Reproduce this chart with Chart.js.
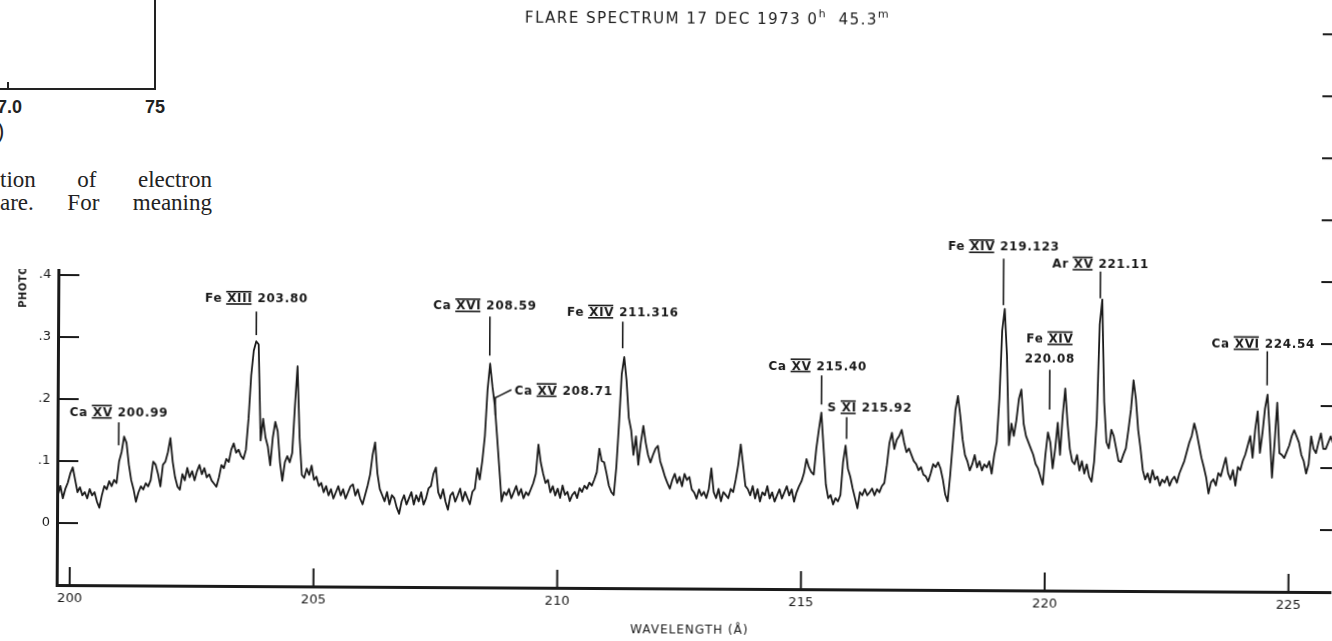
<!DOCTYPE html>
<html>
<head>
<meta charset="utf-8">
<title>Flare spectrum 17 Dec 1973</title>
<script src="https://cdn.jsdelivr.net/npm/chart.js@4.4.1/dist/chart.umd.min.js"></script>
<style>
  html, body { margin: 0; padding: 0; background: #fff; overflow: hidden; }
  #wrap { position: relative; width: 1332px; height: 641px; }
  /* the plate sits a little crooked on the page */
  #spectrum { position: absolute; left: 0; top: 0; transform: rotate(0.32deg); transform-origin: 57px 522px; }
  #page { position: absolute; left: 0; top: 0; width: 232px; height: 269px; background: #fff; overflow: hidden; color: #222; }
  #page .frame { position: absolute; left: -10px; top: -5px; width: 164px; height: 93px; border-right: 2px solid #222; border-bottom: 2px solid #222; }
  #page .tick { position: absolute; left: 7px; top: 82px; width: 2px; height: 7px; background: #222; }
  #page .num { position: absolute; top: 98px; font: bold 18px/18px "Liberation Sans", sans-serif; }
  #page .paren { position: absolute; left: -3px; top: 120px; font: 22px/22px "Liberation Sans", sans-serif; }
  #page .caption { position: absolute; left: 0; width: 212px; font: 23px/23px "Liberation Serif", serif; text-align: justify; text-align-last: justify; white-space: nowrap; }
</style>
</head>
<body>
<div id="wrap">
  <canvas id="spectrum" width="1332" height="641"></canvas>
  <div id="page">
    <div class="frame"></div>
    <div class="tick"></div>
    <span class="num" style="left:-3px">7.0</span>
    <span class="num" style="left:145px">75</span>
    <span class="paren">)</span>
    <div class="caption" style="top:168px">tion of electron</div>
    <div class="caption" style="top:191px">are. For meaning</div>
  </div>
</div>
<script>
// densitometer trace, sampled every 0.05 Å from 199.70 Å
const wavelengthStart = 199.70;
const wavelengthStep = 0.05;
const density = [
  // 199.70 - 199.95
  0.050, 0.045, 0.060, 0.040, 0.055, 0.065,
  // 200
  0.080, 0.090, 0.070, 0.050, 0.058, 0.045, 0.050, 0.040, 0.055, 0.045, 0.050, 0.035, 0.025, 0.045, 0.060, 0.055, 0.068, 0.060, 0.070, 0.065,
  // 201
  0.100, 0.115, 0.140, 0.130, 0.095, 0.070, 0.055, 0.035, 0.050, 0.060, 0.055, 0.065, 0.060, 0.070, 0.100, 0.095, 0.080, 0.060, 0.095, 0.100,
  // 202
  0.115, 0.138, 0.100, 0.075, 0.060, 0.055, 0.080, 0.070, 0.090, 0.075, 0.085, 0.070, 0.085, 0.095, 0.080, 0.090, 0.075, 0.080, 0.070, 0.065,
  // 203
  0.060, 0.075, 0.095, 0.090, 0.105, 0.100, 0.120, 0.130, 0.115, 0.120, 0.110, 0.105, 0.120, 0.170, 0.240, 0.280, 0.295, 0.290, 0.135, 0.170,
  // 204
  0.140, 0.125, 0.095, 0.140, 0.165, 0.150, 0.100, 0.070, 0.100, 0.110, 0.100, 0.115, 0.190, 0.255, 0.140, 0.080, 0.075, 0.090, 0.080, 0.095,
  // 205
  0.072, 0.077, 0.062, 0.067, 0.052, 0.062, 0.047, 0.057, 0.042, 0.052, 0.062, 0.047, 0.057, 0.042, 0.052, 0.062, 0.065, 0.047, 0.057, 0.042,
  // 206
  0.033, 0.048, 0.063, 0.081, 0.113, 0.133, 0.083, 0.058, 0.048, 0.038, 0.053, 0.033, 0.048, 0.043, 0.028, 0.018, 0.038, 0.048, 0.033, 0.043,
  // 207
  0.053, 0.033, 0.048, 0.038, 0.053, 0.033, 0.043, 0.059, 0.063, 0.083, 0.093, 0.053, 0.043, 0.058, 0.038, 0.025, 0.048, 0.053, 0.038, 0.048,
  // 208
  0.059, 0.039, 0.054, 0.044, 0.034, 0.054, 0.059, 0.092, 0.074, 0.104, 0.144, 0.219, 0.261, 0.224, 0.194, 0.144, 0.092, 0.039, 0.054, 0.049,
  // 209
  0.059, 0.044, 0.054, 0.064, 0.049, 0.059, 0.044, 0.054, 0.049, 0.059, 0.069, 0.084, 0.131, 0.102, 0.084, 0.069, 0.074, 0.054, 0.064, 0.049,
  // 210
  0.060, 0.045, 0.065, 0.050, 0.055, 0.040, 0.050, 0.055, 0.045, 0.061, 0.055, 0.065, 0.060, 0.070, 0.065, 0.075, 0.087, 0.125, 0.105, 0.103,
  // 211
  0.085, 0.065, 0.055, 0.050, 0.095, 0.165, 0.245, 0.273, 0.235, 0.175, 0.155, 0.115, 0.145, 0.099, 0.135, 0.162, 0.135, 0.115, 0.103, 0.115,
  // 212
  0.125, 0.130, 0.105, 0.093, 0.080, 0.070, 0.061, 0.075, 0.085, 0.070, 0.080, 0.065, 0.085, 0.075, 0.080, 0.060, 0.055, 0.045, 0.060, 0.050,
  // 213
  0.056, 0.046, 0.061, 0.094, 0.056, 0.046, 0.061, 0.041, 0.056, 0.051, 0.046, 0.061, 0.056, 0.076, 0.100, 0.133, 0.100, 0.066, 0.061, 0.051,
  // 214
  0.066, 0.046, 0.061, 0.041, 0.056, 0.051, 0.066, 0.046, 0.056, 0.041, 0.051, 0.061, 0.046, 0.056, 0.066, 0.051, 0.061, 0.041, 0.056, 0.066,
  // 215
  0.074, 0.087, 0.110, 0.097, 0.089, 0.085, 0.127, 0.157, 0.185, 0.127, 0.069, 0.047, 0.052, 0.037, 0.047, 0.042, 0.052, 0.105, 0.132, 0.095,
  // 216
  0.082, 0.063, 0.047, 0.031, 0.057, 0.052, 0.062, 0.052, 0.057, 0.063, 0.052, 0.062, 0.057, 0.067, 0.072, 0.101, 0.137, 0.153, 0.127, 0.142,
  // 217
  0.148, 0.158, 0.138, 0.122, 0.128, 0.118, 0.108, 0.103, 0.093, 0.098, 0.086, 0.083, 0.075, 0.088, 0.103, 0.098, 0.106, 0.096, 0.078, 0.054,
  // 218
  0.043, 0.086, 0.138, 0.191, 0.213, 0.181, 0.143, 0.118, 0.108, 0.093, 0.103, 0.118, 0.098, 0.108, 0.093, 0.103, 0.098, 0.108, 0.088, 0.118,
  // 219
  0.139, 0.209, 0.319, 0.354, 0.279, 0.134, 0.169, 0.149, 0.174, 0.209, 0.224, 0.169, 0.149, 0.139, 0.129, 0.119, 0.104, 0.097, 0.084, 0.071,
  // 220
  0.119, 0.155, 0.139, 0.097, 0.129, 0.171, 0.119, 0.182, 0.226, 0.171, 0.129, 0.109, 0.104, 0.119, 0.094, 0.109, 0.089, 0.104, 0.084, 0.076,
  // 221
  0.108, 0.175, 0.330, 0.370, 0.205, 0.140, 0.130, 0.160, 0.150, 0.130, 0.110, 0.108, 0.120, 0.130, 0.160, 0.193, 0.240, 0.210, 0.160, 0.130,
  // 222
  0.095, 0.080, 0.090, 0.075, 0.095, 0.080, 0.085, 0.070, 0.080, 0.075, 0.085, 0.070, 0.080, 0.085, 0.075, 0.090, 0.100, 0.110, 0.125, 0.140,
  // 223
  0.151, 0.171, 0.156, 0.136, 0.116, 0.101, 0.084, 0.058, 0.076, 0.081, 0.071, 0.091, 0.086, 0.101, 0.116, 0.091, 0.081, 0.096, 0.071, 0.101,
  // 224
  0.096, 0.111, 0.121, 0.136, 0.151, 0.116, 0.161, 0.191, 0.124, 0.156, 0.196, 0.218, 0.156, 0.084, 0.141, 0.205, 0.124, 0.121, 0.116, 0.126,
  // 225
  0.136, 0.151, 0.161, 0.151, 0.141, 0.121, 0.111, 0.091, 0.106, 0.151, 0.131, 0.124, 0.141, 0.156, 0.131, 0.131, 0.141, 0.151, 0.141, 0.131
];

const xTickValues = [200, 205, 210, 215, 220, 225];
const yTickValues = [0, 0.1, 0.2, 0.3, 0.4, 0.5, 0.6, 0.7, 0.8];

// identified lines
const lineElements = ['Ca', 'Fe', 'Ca', 'Ca', 'Fe', 'Ca', 'S', 'Fe', 'Fe', 'Ar', 'Ca'];
const lineStages = ['XV', 'XIII', 'XVI', 'XV', 'XIV', 'XV', 'XI', 'XIV', 'XIV', 'XV', 'XVI'];
const lineWavelengths = ['200.99', '203.80', '208.59', '208.71', '211.316', '215.40', '215.92', '219.123', '220.08', '221.11', '224.54'];

// where each identification sits (density units), text nudge in px
const labelY = [0.180, 0.365, 0.355, 0.219, 0.346, 0.261, 0.194, 0.455, 0.275, 0.428, 0.301];
const markTop = [0.163, 0.343, 0.337, 0.206, 0.330, 0.245, 0.178, 0.435, 0.256, 0.415, 0.288];
const markBottom = [0.126, 0.305, 0.274, 0.178, 0.287, 0.198, 0.143, 0.360, 0.192, 0.372, 0.233];
const labelDx = [0, 0, -5, 19, 0, -4, 23, 0, 0, 0, -4];
const labelStyle = ['', '', '', 'leader', '', '', '', '', 'stacked', '', ''];

const titleParts = [['FLARE SPECTRUM 17 DEC 1973 0', false], ['h', true], ['  45.3', false], ['m', true]];

const INK = '#1a1a1a';
const FAMILY = '"DejaVu Sans", sans-serif';

const points = density.map((v, i) => ({ x: wavelengthStart + i * wavelengthStep, y: v }));

function drawParts(ctx, parts, left, base, cap) {
  let cx = left;
  parts.forEach(p => {
    const w = ctx.measureText(p.text).width;
    ctx.fillText(p.text, cx, base);
    if (p.barred) {
      ctx.fillRect(cx - 1, base - cap - 2.5, w, 1.6);
      ctx.fillRect(cx - 1, base + 1, w, 1.6);
    }
    cx += w;
  });
}

function partsWidth(ctx, parts) {
  return parts.reduce((w, p) => w + ctx.measureText(p.text).width, 0);
}

const spectrumInk = {
  id: 'spectrumInk',
  afterDraw(chart) {
    const { ctx, chartArea: area, scales: { x, y } } = chart;
    ctx.save();
    ctx.fillStyle = INK;
    ctx.strokeStyle = INK;

    // tick marks point into the plot
    ctx.lineWidth = 2;
    ctx.beginPath();
    x.ticks.forEach(t => {
      const px = x.getPixelForValue(t.value);
      ctx.moveTo(px, area.bottom);
      ctx.lineTo(px, area.bottom - 18);
    });
    y.ticks.forEach(t => {
      const py = y.getPixelForValue(t.value);
      ctx.moveTo(area.left, py);
      ctx.lineTo(area.left + 21, py);
      ctx.moveTo(area.right - 12, py);
      ctx.lineTo(area.right, py);
    });
    ctx.stroke();

    // line identifications
    const cap = 8.8;
    ctx.font = 'bold 12px ' + FAMILY;
    ctx.letterSpacing = '0.7px';
    ctx.textAlign = 'left';
    ctx.textBaseline = 'alphabetic';
    ctx.lineWidth = 1.6;
    lineWavelengths.forEach((wl, i) => {
      const mx = x.getPixelForValue(Number(wl));
      const base = y.getPixelForValue(labelY[i]) + cap / 2;
      const ion = [{ text: lineElements[i] + ' ' }, { text: lineStages[i], barred: true }];
      const top = y.getPixelForValue(markTop[i]);
      const bottom = y.getPixelForValue(markBottom[i]);
      ctx.beginPath();
      if (labelStyle[i] === 'stacked') {
        const w1 = partsWidth(ctx, ion);
        drawParts(ctx, ion, mx + labelDx[i] - w1 / 2, base - 20, cap);
        const w2 = ctx.measureText(wl).width;
        ctx.fillText(wl, mx + labelDx[i] - w2 / 2, base);
        ctx.moveTo(mx, top);
      } else {
        const parts = ion.concat([{ text: ' ' + wl }]);
        const w = partsWidth(ctx, parts);
        if (labelStyle[i] === 'leader') {
          const left = mx + labelDx[i];
          drawParts(ctx, parts, left, base, cap);
          ctx.moveTo(left - 3, base - cap / 2);
          ctx.lineTo(mx + 4, top - 2);
          ctx.lineTo(mx, top);
        } else {
          drawParts(ctx, parts, mx + labelDx[i] - w / 2, base, cap);
          ctx.moveTo(mx, top);
        }
      }
      ctx.lineTo(mx, bottom);
      ctx.stroke();
    });

    // plate title with raised h / m
    let tx = 522;
    titleParts.forEach(([text, raised]) => {
      ctx.font = (raised ? '11px ' : '15px ') + FAMILY;
      ctx.letterSpacing = raised ? '0.5px' : '1.5px';
      ctx.fillText(text, tx, raised ? 12.5 : 19.5);
      tx += ctx.measureText(text).width;
    });

    // axis titles
    ctx.font = '12px ' + FAMILY;
    ctx.letterSpacing = '1px';
    ctx.textAlign = 'center';
    ctx.fillText('WAVELENGTH (\u00C5)', 690, 629.5);

    ctx.save();
    ctx.translate(22.5, 308);
    ctx.rotate(-Math.PI / 2);
    ctx.font = 'bold 10px ' + FAMILY;
    ctx.letterSpacing = '0.5px';
    ctx.textAlign = 'left';
    ctx.textBaseline = 'middle';
    ctx.fillText('PHOTOGRAPHIC DENSITY', 0, 0);
    ctx.restore();

    ctx.restore();
  }
};

new Chart(document.getElementById('spectrum'), {
  type: 'line',
  data: {
    datasets: [{
      data: points,
      borderColor: INK,
      borderWidth: 1.8,
      borderJoinStyle: 'round',
      pointRadius: 0,
      tension: 0,
      fill: false
    }]
  },
  options: {
    responsive: false,
    animation: false,
    devicePixelRatio: 1,
    layout: { padding: { top: 7, right: 0, bottom: 0, left: 0 } },
    plugins: { legend: { display: false }, tooltip: { enabled: false } },
    scales: {
      x: {
        type: 'linear',
        min: 199.733,
        max: 225.887,
        afterBuildTicks: s => { s.ticks = xTickValues.map(v => ({ value: v })); },
        afterFit: s => { s.height = 56; },
        grid: { display: false, drawTicks: false },
        border: { display: true, color: INK, width: 3 },
        ticks: {
          color: INK,
          font: { family: 'DejaVu Sans', size: 13 },
          padding: 6,
          maxRotation: 0,
          autoSkip: false,
          callback: v => String(v)
        }
      },
      y: {
        type: 'linear',
        min: -0.1,
        max: 0.82,
        afterBuildTicks: s => { s.ticks = yTickValues.map(v => ({ value: v })); },
        afterFit: s => { s.width = 57; },
        grid: { display: false, drawTicks: false },
        border: { display: true, color: INK, width: 3 },
        ticks: {
          color: INK,
          font: { family: 'DejaVu Sans', size: 13 },
          padding: 7,
          callback: v => (v === 0 ? '0' : '.' + Math.round(v * 10))
        }
      }
    }
  },
  plugins: [spectrumInk]
});
</script>
</body>
</html>
